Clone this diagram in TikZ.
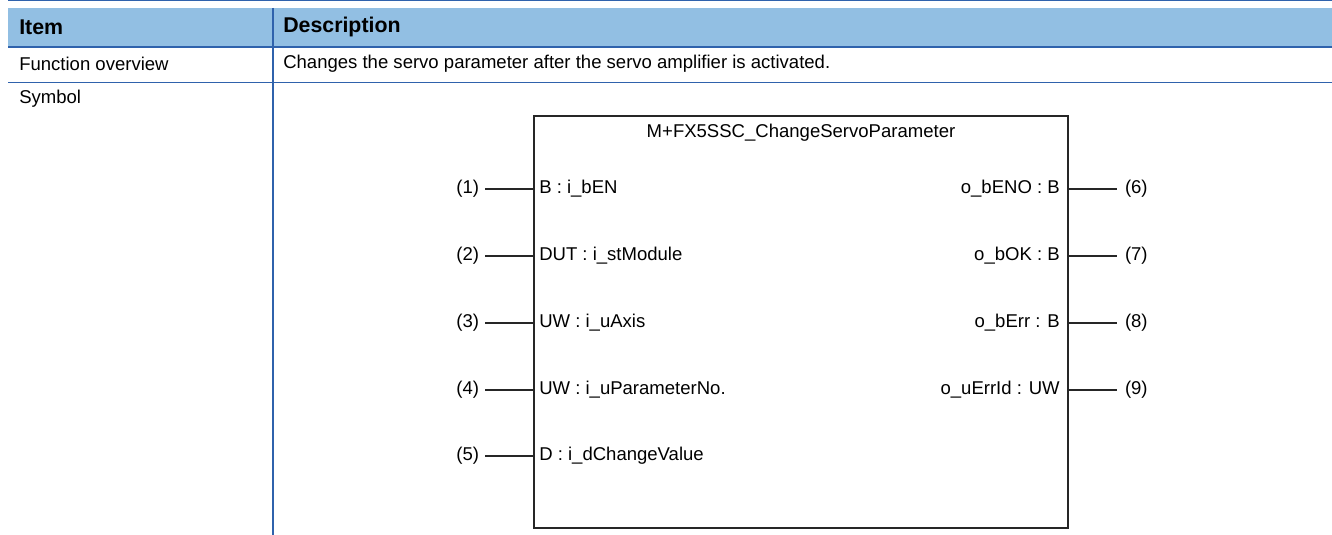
\documentclass[tikz,border=0pt]{standalone}
\usepackage{fontspec}
\setmainfont{Liberation Sans}
\usepackage{tikz}
\usetikzlibrary{positioning}
\definecolor{hdrblue}{HTML}{92BFE3}
\definecolor{ruleblue}{HTML}{2F62AC}

\begin{document}
\begin{tikzpicture}[x=0.75pt,y=-0.75pt,font=\fontsize{13.9}{16}\selectfont]
\tikzstyle{every node}+=[inner sep=0pt]
\tikzstyle{hdr}=[anchor=west,font=\fontsize{16}{18}\selectfont\bfseries]
\tikzstyle{inlabel}=[anchor=east,outer xsep=4.5pt]
\tikzstyle{outlabel}=[anchor=west,outer xsep=6pt]
\tikzstyle{pinline}=[black!85,line width=1pt]
\useasboundingbox (0,0) rectangle (1332,535);
% table
\fill [hdrblue] (8,8) rectangle (1332,47);
\draw [ruleblue,line width=0.9pt] (8,0.6) -- (1332,0.6);
\draw [ruleblue,line width=1.6pt] (8,47) -- (1332,47);
\draw [ruleblue,line width=1.4pt] (8,82.5) -- (1332,82.5);
\draw [ruleblue,line width=1.5pt] (272.7,8) -- (272.7,535);
\node [hdr] (item) at (19,27) {Item};
\node [hdr] (descr) at (283,27) {Description};
\node [anchor=west] (fover) at (19,64) {Function overview};
\node [anchor=west] (ftext) at (283,64) {Changes the servo parameter after the servo amplifier is activated.};
\node [anchor=west] (symbol) at (19,99) {Symbol};
% function block
\node [draw,black!85,line width=1.5pt,minimum width=400.5pt,minimum height=309pt] (fb) at (801,322) {};
\node (title) at (801,133) {M+FX5SSC\_ChangeServoParameter};
% inputs
\node [inlabel] (n1) at (485,189) {(1)};
\node [anchor=west] (in1) at (539,189) {B : i\_bEN};
\draw [pinline] (n1) -- (n1 -| fb.west);
\node [inlabel] (n2) at (485,256) {(2)};
\node [anchor=west] (in2) at (539,256) {DUT : i\_stModule};
\draw [pinline] (n2) -- (n2 -| fb.west);
\node [inlabel] (n3) at (485,323) {(3)};
\node [anchor=west] (in3) at (539,323) {UW : i\_uAxis};
\draw [pinline] (n3) -- (n3 -| fb.west);
\node [inlabel] (n4) at (485,390) {(4)};
\node [anchor=west] (in4) at (539,390) {UW : i\_uParameterNo.};
\draw [pinline] (n4) -- (n4 -| fb.west);
\node [inlabel] (n5) at (485,456) {(5)};
\node [anchor=west] (in5) at (539,456) {D : i\_dChangeValue};
\draw [pinline] (n5) -- (n5 -| fb.west);
% outputs
\node [outlabel] (n6) at (1117,189) {(6)};
\node [anchor=east] (out6) at (1060,189) {o\_bENO : B};
\draw [pinline] (n6 -| fb.east) -- (n6);
\node [outlabel] (n7) at (1117,256) {(7)};
\node [anchor=east] (out7) at (1060,256) {o\_bOK : B};
\draw [pinline] (n7 -| fb.east) -- (n7);
\node [outlabel] (n8) at (1117,323) {(8)};
\node [anchor=east] (out8) at (1060,323) {o\_bErr : B};
\draw [pinline] (n8 -| fb.east) -- (n8);
\node [outlabel] (n9) at (1117,390) {(9)};
\node [anchor=east] (out9) at (1060,390) {o\_uErrId : UW};
\draw [pinline] (n9 -| fb.east) -- (n9);
\end{tikzpicture}
\end{document}
